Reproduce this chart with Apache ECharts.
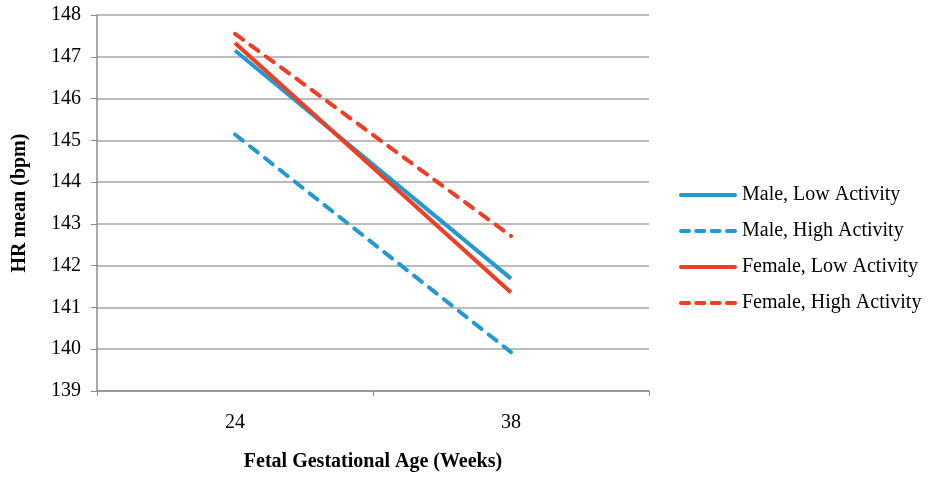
<!DOCTYPE html>
<html><head><meta charset="utf-8">
<script src="https://cdn.jsdelivr.net/npm/echarts@6/dist/echarts.min.js"></script>
<style>html,body{margin:0;padding:0;background:#fff}#c{width:930px;height:477px}</style>
</head><body><div id="c"></div>
<script>
const categories = ['24', '38'];
const maleLow = [147.15, 141.69];
const maleHigh = [145.14, 139.93];
const femaleLow = [147.33, 141.36];
const femaleHigh = [147.55, 142.71];
const seriesNames = ['Male, Low Activity', 'Male, High Activity', 'Female, Low Activity', 'Female, High Activity'];
const BLUE = '#2499D0', RED = '#EE3E24';
const font = 'Liberation Serif';
const SOLID_ICON = 'path://M2,0H56A2,2 0 0 1 56,4H2A2,2 0 0 1 2,0Z';
const DASH_ICON = 'path://M2,0H10A2,2 0 0 1 10,4H2A2,2 0 0 1 2,0Z M17.3,0H25.3A2,2 0 0 1 25.3,4H17.3A2,2 0 0 1 17.3,0Z M32.6,0H40.6A2,2 0 0 1 40.6,4H32.6A2,2 0 0 1 32.6,0Z M48,0H56A2,2 0 0 1 56,4H48A2,2 0 0 1 48,0Z';
function mk(name, data, color, dashed) {
  return {
    name, type: 'line', data, symbol: 'none', showSymbol: false, animation: false,
    lineStyle: { color, width: 4, type: dashed ? [10, 9] : 'solid', cap: dashed ? 'round' : 'butt' },
    itemStyle: { color }
  };
}
const chart = echarts.init(document.getElementById('c'));
chart.setOption({
  animation: false,
  grid: { left: 97, right: 281, top: 15, bottom: 85 },
  legend: {
    orient: 'vertical', left: 674, top: 180, itemGap: 16, itemWidth: 58, itemHeight: 4,
    textStyle: { fontFamily: font, fontSize: 20, color: '#000' },
    data: [
      { name: seriesNames[0], icon: SOLID_ICON },
      { name: seriesNames[1], icon: DASH_ICON },
      { name: seriesNames[2], icon: SOLID_ICON },
      { name: seriesNames[3], icon: DASH_ICON }
    ]
  },
  xAxis: {
    type: 'category', data: categories, boundaryGap: true,
    name: 'Fetal Gestational Age (Weeks)', nameLocation: 'middle', nameGap: 61,
    nameTextStyle: { fontFamily: font, fontSize: 20, fontWeight: 'bold', color: '#000' },
    axisLine: { lineStyle: { color: '#8c8c8c', width: 1.5 } },
    axisTick: { show: true, length: 5, lineStyle: { color: '#8c8c8c' } },
    axisLabel: { fontFamily: font, fontSize: 20, color: '#000', margin: 22 },
    splitLine: { show: false }
  },
  yAxis: {
    type: 'value', min: 139, max: 148, interval: 1,
    name: 'HR mean (bpm)', nameLocation: 'middle', nameGap: 67,
    nameTextStyle: { fontFamily: font, fontSize: 20, fontWeight: 'bold', color: '#000' },
    axisLine: { show: true, lineStyle: { color: '#8c8c8c', width: 1.5 } },
    axisTick: { show: true, length: 6, lineStyle: { color: '#8c8c8c' } },
    axisLabel: { fontFamily: font, fontSize: 20, color: '#000', margin: 16 },
    splitLine: { lineStyle: { color: '#a6a6a6', width: 1.5 } }
  },
  series: [
    mk(seriesNames[0], maleLow, BLUE, false),
    mk(seriesNames[1], maleHigh, BLUE, true),
    mk(seriesNames[2], femaleLow, RED, false),
    mk(seriesNames[3], femaleHigh, RED, true)
  ]
});
</script></body></html>
